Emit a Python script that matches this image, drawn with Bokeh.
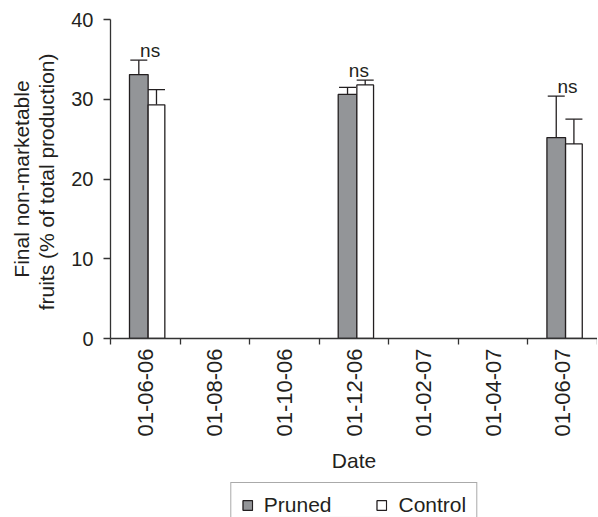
import numpy as np
from bokeh.plotting import figure
from bokeh.layouts import column
from bokeh.models import (FixedTicker, Whisker, TeeHead, ColumnDataSource, Legend,
                          LegendItem, Range1d)
from bokeh.embed import file_html
from bokeh.resources import INLINE
from bokeh.core.properties import value

# ---- data ----
dates = ["01-06-06", "01-08-06", "01-10-06", "01-12-06", "01-02-07", "01-04-07", "01-06-07"]
sample_dates = ["01-06-06", "01-12-06", "01-06-07"]
pruned = [33.1, 30.6, 25.2]
pruned_err = [1.8, 0.9, 5.2]
control = [29.3, 31.8, 24.4]
control_err = [1.9, 0.6, 3.1]
signif = ["ns", "ns", "ns"]
y_ticks = [0, 10, 20, 30, 40]
series_names = ["Pruned", "Control"]

FONT = "Liberation Sans"
TXT = "#231f20"
LINE = "#333333"
GREY = "#939598"

centers = [dates.index(d) + 0.5 for d in sample_dates]
p_off, c_off = -0.093, 0.161
src = ColumnDataSource(dict(
    center=centers,
    px=[c + p_off for c in centers],
    cx=[c + c_off for c in centers],
    pruned=pruned,
    control=control,
    p_up=[v + e for v, e in zip(pruned, pruned_err)],
    c_up=[v + e for v, e in zip(control, control_err)],
    ns_x=[c + 0.07 for c in centers],
    ns_y=[max(a + b, c + d) + 1.2 for a, b, c, d in zip(pruned, pruned_err, control, control_err)],
    ns=signif,
))

p = figure(frame_width=487, frame_height=319, x_range=Range1d(0, len(dates)), y_range=Range1d(0, 40),
           output_backend="svg", toolbar_location=None,
           min_border_left=110, min_border_right=0, min_border_top=19, min_border_bottom=142)
p.xgrid.visible = False
p.ygrid.visible = False
p.outline_line_color = None
p.background_fill_color = "white"

r_p = p.vbar(x="px", top="pruned", bottom=0, width=0.268, source=src,
             fill_color=GREY, line_color=TXT, line_width=1.3)
r_c = p.vbar(x="cx", top="control", bottom=0, width=0.24, source=src,
             fill_color="white", line_color=TXT, line_width=1.3)

for xcol, ucol, base in (("px", "p_up", "pruned"), ("cx", "c_up", "control")):
    w = Whisker(source=src, base=xcol, upper=ucol, lower=base, line_color=TXT, line_width=1.3,
                upper_head=TeeHead(size=17, line_color=TXT, line_width=1.3), lower_head=None)
    p.add_layout(w)

p.text(x="ns_x", y="ns_y", text="ns", source=src, text_align="center",
       text_baseline="alphabetic", text_font=value(FONT), text_font_size="19px",
       text_color=TXT)

# x axis: labels at category centres, ticks at boundaries
xa = p.xaxis[0]
xa.ticker = FixedTicker(ticks=[i + 0.5 for i in range(len(dates))],
                        minor_ticks=list(range(len(dates) + 1)))
xa.major_label_overrides = {i + 0.5: d for i, d in enumerate(dates)}
xa.major_label_orientation = np.pi / 2
xa.major_tick_line_color = None
xa.major_tick_out = 6
xa.major_tick_in = 0
xa.minor_tick_line_color = LINE
xa.minor_tick_line_width = 1.3
xa.minor_tick_out = 6
xa.minor_tick_in = 0
xa.major_label_standoff = 4
xa.axis_line_color = LINE
xa.axis_line_width = 1.3
xa.major_label_text_font = FONT
xa.major_label_text_font_size = "22px"
xa.major_label_text_color = TXT
xa.axis_label = "Date"
xa.axis_label_text_font = FONT
xa.axis_label_text_font_size = "21px"
xa.axis_label_text_font_style = "normal"
xa.axis_label_text_color = TXT
xa.axis_label_standoff = 9

ya = p.yaxis[0]
ya.ticker = FixedTicker(ticks=y_ticks)
ya.minor_tick_line_color = None
ya.major_tick_out = 7
ya.major_tick_in = 0
ya.major_tick_line_color = LINE
ya.major_tick_line_width = 1.3
ya.axis_line_color = LINE
ya.axis_line_width = 1.3
ya.major_label_standoff = 10
ya.major_label_text_font = FONT
ya.major_label_text_font_size = "20px"
ya.major_label_text_color = TXT
ya.axis_label = "Final non-marketable\nfruits  (% of total production)"
ya.axis_label_text_font = FONT
ya.axis_label_text_font_size = "21px"
ya.axis_label_text_font_style = "normal"
ya.axis_label_text_color = TXT
ya.axis_label_text_line_height = 1.1
ya.axis_label_standoff = 10

# legend strip below the chart (its frame is aligned with the chart's frame)
lg = figure(frame_width=487, frame_height=37, x_range=Range1d(0, 1), y_range=Range1d(0, 1),
            output_backend="svg", toolbar_location=None,
            min_border_left=110, min_border_right=0, min_border_top=0, min_border_bottom=0)
lg.axis.visible = False
lg.grid.visible = False
lg.outline_line_color = None
# legend proxies sit below the visible range
lp = lg.vbar(x=[0.5], bottom=[-3], top=[-2], width=0.1, fill_color=GREY, line_color=TXT, line_width=1.3)
lc = lg.vbar(x=[0.5], bottom=[-3], top=[-2], width=0.1, fill_color="white", line_color=TXT, line_width=1.3)
legend = Legend(items=[LegendItem(label=series_names[0], renderers=[lp]),
                       LegendItem(label=series_names[1], renderers=[lc])],
                orientation="horizontal", location="top_center",
                border_line_color="#555555", border_line_width=1.4,
                glyph_width=12, glyph_height=12, label_standoff=11, spacing=44,
                padding=10, margin=2, label_height=20,
                label_text_font=FONT, label_text_font_size="21px", label_text_color=TXT)
lg.add_layout(legend, "center")

layout = column(p, lg, spacing=0)
open("out.html", "w").write(file_html(layout, INLINE))
